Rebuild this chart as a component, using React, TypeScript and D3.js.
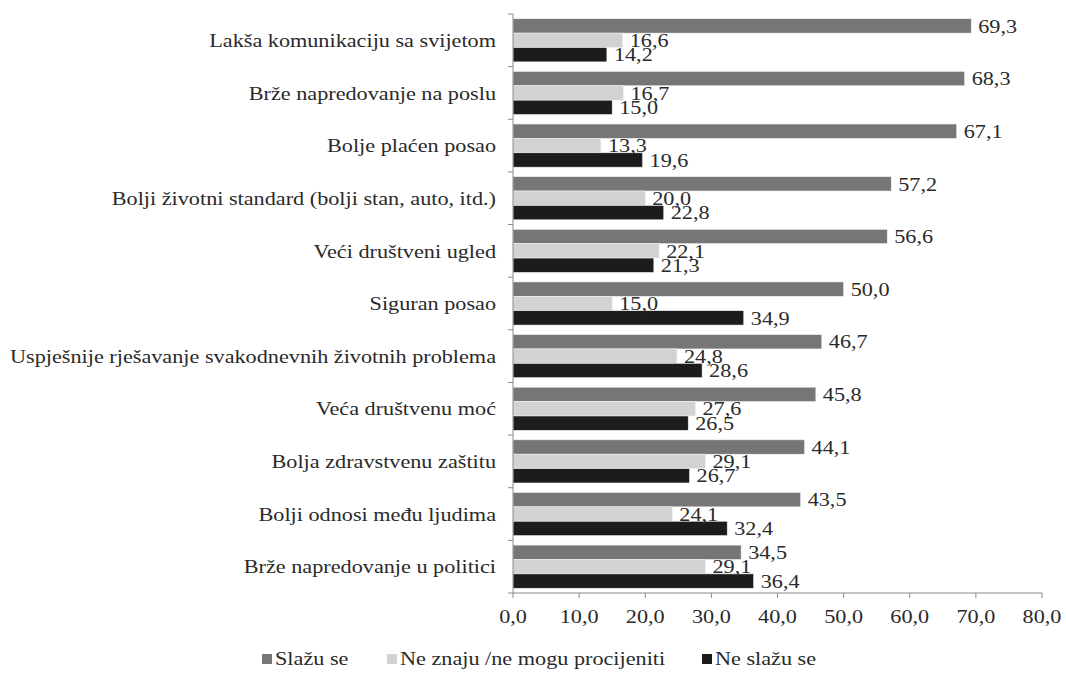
import * as d3 from 'd3';
import React, { useEffect, useRef } from 'react';

const categories = [
  'Lakša komunikaciju sa svijetom',
  'Brže napredovanje na poslu',
  'Bolje plaćen posao',
  'Bolji životni standard (bolji stan, auto, itd.)',
  'Veći društveni ugled',
  'Siguran posao',
  'Uspješnije rješavanje svakodnevnih životnih problema',
  'Veća društvenu moć',
  'Bolja zdravstvenu zaštitu',
  'Bolji odnosi među ljudima',
  'Brže napredovanje u politici',
];

const seriesNames = ['Slažu se', 'Ne znaju /ne mogu procijeniti', 'Ne slažu se'];

const slazuSe = [69.3, 68.3, 67.1, 57.2, 56.6, 50.0, 46.7, 45.8, 44.1, 43.5, 34.5];
const neZnaju = [16.6, 16.7, 13.3, 20.0, 22.1, 15.0, 24.8, 27.6, 29.1, 24.1, 29.1];
const neSlazuSe = [14.2, 15.0, 19.6, 22.8, 21.3, 34.9, 28.6, 26.5, 26.7, 32.4, 36.4];

const xTicks = [0, 10, 20, 30, 40, 50, 60, 70, 80];

const W = 1066;
const H = 674;
const margin = { l: 513, r: 24, t: 14, b: 81 };
const font = 'Liberation Serif';
const textColor = '#2a2a2a';
const axisColor = '#8a8a8a';
// the scanned original is a bit stretched sideways
const stretch = 1.17;

const fmt = (v: number) => d3.format('.1f')(v).replace('.', ',');

export default function App() {
  const ref = useRef<SVGSVGElement>(null);

  useEffect(() => {
    const svg = d3.select(ref.current);
    svg.selectAll('*').remove();

    const chartW = W - margin.l - margin.r;
    const chartH = H - margin.t - margin.b;

    const series = [slazuSe, neZnaju, neSlazuSe];
    const colors = d3.scaleOrdinal<string, string>()
      .domain(seriesNames)
      .range(['#767676', '#d2d2d2', '#1c1c1c']);

    const x = d3.scaleLinear().domain([0, 80]).range([0, chartW]);
    const y = d3.scaleBand<string>().domain(categories).range([0, chartH]).padding(0);
    const yIn = d3.scaleBand<string>()
      .domain(seriesNames)
      .range([y.bandwidth() * 0.09, y.bandwidth() * 0.91]);

    const place = (px: number, py: number) => `translate(${px},${py}) scale(${stretch},1)`;

    const g = svg.append('g').attr('transform', `translate(${margin.l},${margin.t})`);

    // bars + value labels
    const groups = g.selectAll('.cat')
      .data(categories)
      .enter().append('g')
      .attr('class', 'cat')
      .attr('transform', (d) => `translate(0,${y(d)})`);

    groups.each(function (cat, i) {
      const grp = d3.select(this);
      const rows = seriesNames.map((s, k) => ({ s, v: series[k][i] }));
      grp.selectAll('rect')
        .data(rows)
        .enter().append('rect')
        .attr('x', 0)
        .attr('y', (d) => yIn(d.s)!)
        .attr('width', (d) => x(d.v))
        .attr('height', yIn.bandwidth())
        .attr('fill', (d) => colors(d.s))
        .attr('stroke', '#f2f2f2')
        .attr('stroke-width', 0.6);
      grp.selectAll('text')
        .data(rows)
        .enter().append('text')
        .attr('transform', (d) => place(x(d.v) + 7, yIn(d.s)! + yIn.bandwidth() / 2))
        .attr('dy', '0.35em')
        .text((d) => fmt(d.v))
        .attr('font-family', font)
        .attr('font-size', 19)
        .attr('fill', textColor);
    });

    // y axis (category labels, ticks at band edges)
    g.append('line')
      .attr('x1', 0).attr('x2', 0).attr('y1', 0).attr('y2', chartH)
      .attr('stroke', axisColor);
    const edges = categories.map((c) => y(c)!).concat([chartH]);
    g.selectAll('.ytick')
      .data(edges)
      .enter().append('line')
      .attr('x1', -5).attr('x2', 0)
      .attr('y1', (d) => d).attr('y2', (d) => d)
      .attr('stroke', axisColor);
    g.selectAll('.ylab')
      .data(categories)
      .enter().append('text')
      .attr('transform', (d) => place(-17, y(d)! + y.bandwidth() / 2))
      .attr('dy', '0.35em')
      .attr('text-anchor', 'end')
      .text((d) => d)
      .attr('font-family', font)
      .attr('font-size', 19)
      .attr('fill', textColor);

    // x axis
    const xAxis = g.append('g').attr('transform', `translate(0,${chartH})`);
    xAxis.append('line')
      .attr('x1', 0).attr('x2', chartW).attr('y1', 0).attr('y2', 0)
      .attr('stroke', axisColor);
    xAxis.selectAll('.xtick')
      .data(xTicks)
      .enter().append('line')
      .attr('x1', (d) => x(d)).attr('x2', (d) => x(d))
      .attr('y1', 0).attr('y2', 5)
      .attr('stroke', axisColor);
    xAxis.selectAll('.xlab')
      .data(xTicks)
      .enter().append('text')
      .attr('transform', (d) => place(x(d), 23))
      .attr('dy', '0.35em')
      .attr('text-anchor', 'middle')
      .text((d) => fmt(d))
      .attr('font-family', font)
      .attr('font-size', 19)
      .attr('fill', textColor);

    // legend
    const legendX = [262, 387, 702];
    const legend = svg.append('g').attr('transform', `translate(0,${H - 9})`);
    seriesNames.forEach((s, k) => {
      legend.append('rect')
        .attr('x', legendX[k]).attr('y', -11)
        .attr('width', 10).attr('height', 10)
        .attr('fill', colors(s));
      legend.append('text')
        .attr('transform', place(legendX[k] + 13, 0))
        .text(s)
        .attr('font-family', font)
        .attr('font-size', 19)
        .attr('fill', textColor);
    });
  }, []);

  return (
    <svg
      ref={ref}
      width={W}
      height={H}
      style={{ position: 'absolute', left: 0, top: 0, background: '#fff' }}
    />
  );
}
